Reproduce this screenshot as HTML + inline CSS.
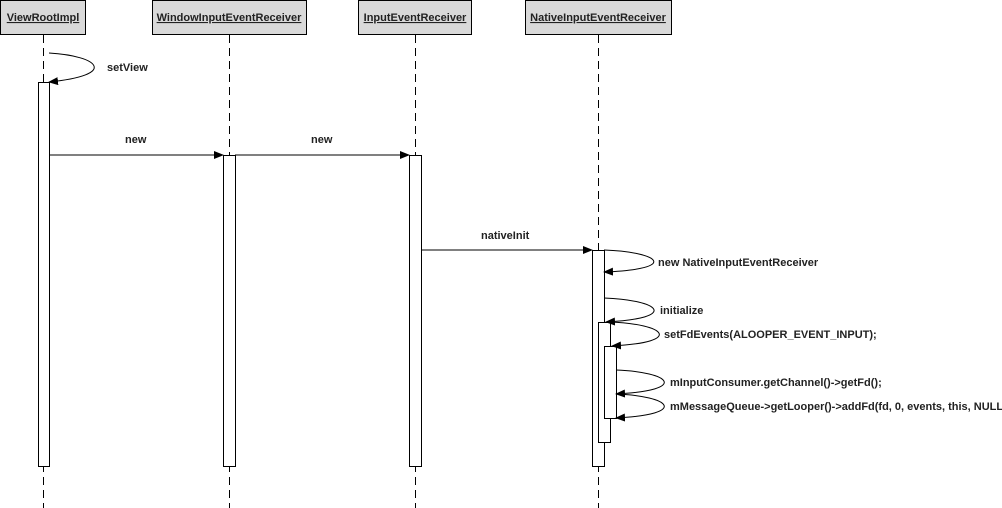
<!DOCTYPE html>
<html><head><meta charset="utf-8"><style>
html,body{margin:0;padding:0;background:#fff;}
svg{display:block;font-family:"Liberation Sans",sans-serif;font-size:11px;}
</style></head><body>
<svg width="1002" height="508" viewBox="0 0 1002 508" xmlns="http://www.w3.org/2000/svg">
<defs>
<marker id="a" markerWidth="10" markerHeight="8" refX="9" refY="4" orient="auto" markerUnits="userSpaceOnUse">
<path d="M0,0 L10,4 L0,8 Z" fill="#000"/></marker>
</defs>
<g fill="#d9d9d9" stroke="#000" stroke-width="1">
<rect x="0.5" y="0.5" width="85" height="34"/>
<rect x="152.5" y="0.5" width="154" height="34"/>
<rect x="358.5" y="0.5" width="113" height="34"/>
<rect x="525.5" y="0.5" width="146" height="34"/>
</g>
<g font-weight="bold" text-anchor="middle" text-decoration="underline" fill="#222">
<text x="43" y="21">ViewRootImpl</text>
<text x="229" y="21">WindowInputEventReceiver</text>
<text x="415" y="21">InputEventReceiver</text>
<text x="598" y="21">NativeInputEventReceiver</text>
</g>
<g stroke="#000" stroke-dasharray="8,5">
<line x1="43.5" y1="35" x2="43.5" y2="508"/>
<line x1="229.5" y1="35" x2="229.5" y2="508"/>
<line x1="415.5" y1="35" x2="415.5" y2="508"/>
<line x1="598.5" y1="35" x2="598.5" y2="508"/>
</g>
<g fill="#fff" stroke="#000">
<rect x="38.5" y="82.5" width="11" height="384"/>
<rect x="223.5" y="155.5" width="12" height="311"/>
<rect x="409.5" y="155.5" width="12" height="311"/>
<rect x="592.5" y="250.5" width="12" height="216"/>
<rect x="598.5" y="322.5" width="12" height="120"/>
<rect x="604.5" y="346.5" width="12" height="72"/>
</g>
<g fill="none" stroke="#000" marker-end="url(#a)">
<path d="M49,53 C100,56 118,75 49,82"/>
<line x1="49" y1="155" x2="223" y2="155"/>
<line x1="235" y1="155" x2="409" y2="155"/>
<line x1="421" y1="250" x2="592" y2="250"/>
<path d="M604,250 C660,252 680,269 604,272"/>
<path d="M604,298 C660,300 680,318 606,322"/>
<path d="M610,322 C665,324 685,342 612,346"/>
<path d="M616,370 C670,372 690,390 616,394"/>
<path d="M616,394 C670,396 690,414 616,418"/>
</g>
<g fill="#222" font-weight="bold">
<text x="107" y="71">setView</text>
<text x="125" y="143">new</text>
<text x="311" y="143">new</text>
<text x="481" y="239">nativeInit</text>
<text x="658" y="266">new NativeInputEventReceiver</text>
<text x="660" y="314">initialize</text>
<text x="664" y="338">setFdEvents(ALOOPER_EVENT_INPUT);</text>
<text x="670" y="386">mInputConsumer.getChannel()-&gt;getFd();</text>
<text x="670" y="410">mMessageQueue-&gt;getLooper()-&gt;addFd(fd, 0, events, this, NULL);</text>
</g>
</svg>
</body></html>
